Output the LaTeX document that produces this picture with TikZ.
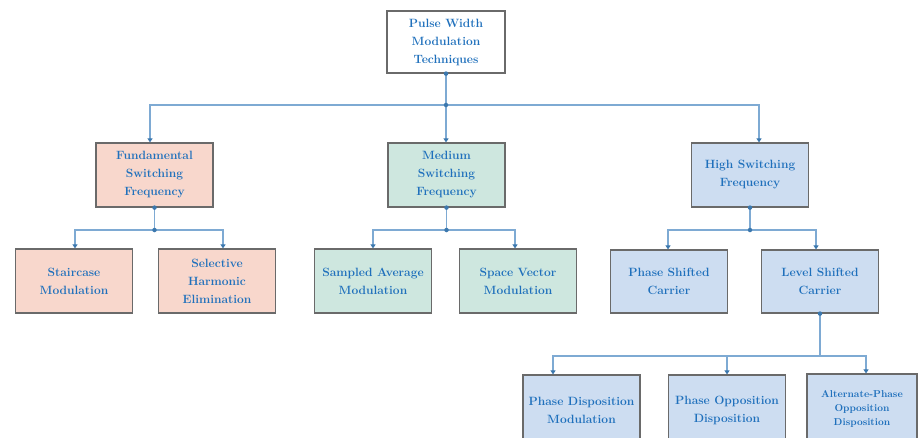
\documentclass[tikz,border=0pt]{standalone}
\usetikzlibrary{arrows.meta}
\definecolor{txt}{HTML}{1F70BC}
\definecolor{ln}{HTML}{7EAAD3}
\definecolor{dotc}{HTML}{3C78AE}
\definecolor{bd}{HTML}{6A6A6A}
\definecolor{fpink}{HTML}{F8D7CC}
\definecolor{fgreen}{HTML}{CEE7DF}
\definecolor{fblue}{HTML}{CDDDF1}
\begin{document}
\begin{tikzpicture}[x=1pt,y=-1pt,
  box/.style={draw=bd, line width=1.2pt, minimum width=117pt, minimum height=64pt,
    align=center, text=txt, inner sep=2pt,
    font=\bfseries\fontsize{12}{18}\selectfont},
  pinkbox/.style={box, fill=fpink},
  greenbox/.style={box, fill=fgreen},
  bluebox/.style={box, fill=fblue},
  conn/.style={draw=ln, line width=1.5pt},
  arr/.style={conn, -{Triangle[length=4pt,width=5pt,color=dotc]}},
  jdot/.style={circle, fill=dotc, inner sep=0pt, minimum size=4.5pt}]
\clip (0,0) rectangle (918,437);
\fill[white] (0,0) rectangle (918,437);

% nodes
\node[box, fill=white, minimum width=118pt, minimum height=62pt] (r) at (446,42) {Pulse Width\\Modulation\\Techniques};
\node[pinkbox] (f) at (154.5,175) {Fundamental\\Switching\\Frequency};
\node[greenbox] (m) at (446.5,175) {Medium\\Switching\\Frequency};
\node[bluebox] (h) at (750,175) {High Switching\\Frequency};

\node[pinkbox] (s1) at (74,281) {Staircase\\Modulation};
\node[pinkbox] (s2) at (217,281) {Selective\\Harmonic\\Elimination};
\node[greenbox] (s3) at (373,281) {Sampled Average\\Modulation};
\node[greenbox] (s4) at (518,281) {Space Vector\\Modulation};
\node[bluebox, minimum height=63pt] (s5) at (669,281.5) {Phase Shifted\\Carrier};
\node[bluebox, minimum height=63pt] (s6) at (820,281.5) {Level Shifted\\Carrier};

\node[bluebox, minimum height=70pt] (b1) at (581.5,410) {Phase Disposition\\Modulation};
\node[bluebox, minimum height=70pt] (b2) at (727,410) {Phase Opposition\\Disposition};
\node[bluebox, minimum width=110pt, minimum height=70pt,
  font=\bfseries\fontsize{10}{14}\selectfont] (b3) at (862,409) {Alternate-Phase\\Opposition\\Disposition};

% junction coordinates
\coordinate (j0) at (446,105);
\coordinate (j1) at (154.5,230);
\coordinate (j2) at (446.5,230);
\coordinate (j3) at (750,230);
\coordinate (j4) at (820,356);

% level 1
\draw[conn] (r.south) -- (j0);
\draw[arr] (j0) -| ([xshift=-4.5pt]f.north);
\draw[arr] (j0) -- (j0 |- m.north);
\draw[arr] (j0) -| ([xshift=9pt]h.north);

% level 2
\draw[conn] (f.south) -- (j1);
\draw[arr] (j1) -| ([xshift=1pt]s1.north);
\draw[arr] (j1) -| ([xshift=6pt]s2.north);
\draw[conn] (m.south) -- (j2);
\draw[arr] (j2) -| (s3.north);
\draw[arr] (j2) -| ([xshift=-3pt]s4.north);
\draw[conn] (h.south) -- (j3);
\draw[arr] (j3) -| ([xshift=-1pt]s5.north);
\draw[arr] (j3) -| ([xshift=-4pt]s6.north);

% level 3
\draw[conn] (s6.south) -- (j4);
\draw[arr] (j4) -| ([xshift=-28.5pt]b1.north);
\draw[arr] (j4) -| (b2.north);
\draw[arr] (j4) -| ([xshift=4pt]b3.north);

% dots
\foreach \p in {r.south, j0, f.south, j1, m.south, j2, h.south, j3, s6.south}
  \node[jdot] at (\p) {};
\end{tikzpicture}
\end{document}
